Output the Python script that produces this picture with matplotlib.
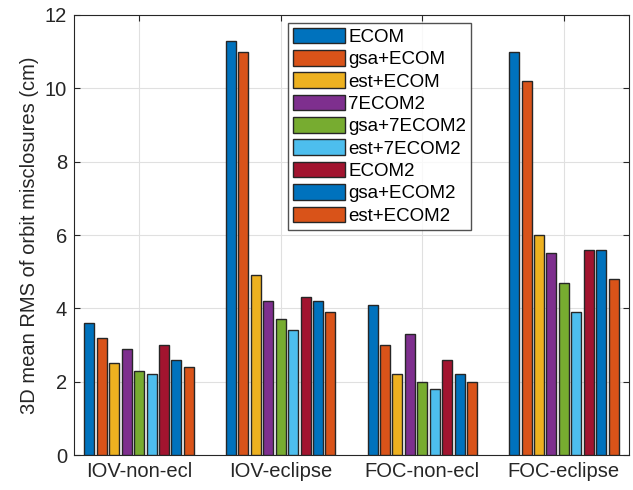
import matplotlib.pyplot as plt
import numpy as np

categories = ['IOV-non-ecl', 'IOV-eclipse', 'FOC-non-ecl', 'FOC-eclipse']
series = ['ECOM', 'gsa+ECOM', 'est+ECOM', '7ECOM2', 'gsa+7ECOM2',
          'est+7ECOM2', 'ECOM2', 'gsa+ECOM2', 'est+ECOM2']
values = [
    [3.6, 11.3, 4.1, 11.0],
    [3.2, 11.0, 3.0, 10.2],
    [2.5, 4.9, 2.2, 6.0],
    [2.9, 4.2, 3.3, 5.5],
    [2.3, 3.7, 2.0, 4.7],
    [2.2, 3.4, 1.8, 3.9],
    [3.0, 4.3, 2.6, 5.6],
    [2.6, 4.2, 2.2, 5.6],
    [2.4, 3.9, 2.0, 4.8],
]
colors = ['#0072BD', '#D95319', '#EDB120', '#7E2F8E', '#77AC30',
          '#4DBEEE', '#A2142F', '#0072BD', '#D95319']

plt.rcParams['font.family'] = ['Liberation Sans', 'DejaVu Sans']

fig = plt.figure(figsize=(6.33, 4.9), dpi=100)
ax = fig.add_axes([74/633, 35/490, 555/633, 440/490])

x = np.arange(1, len(categories) + 1)
slot = 0.79 / len(series)
for i, (name, vals) in enumerate(zip(series, values)):
    off = (i - (len(series) - 1) / 2) * slot
    ax.bar(x + off, vals, width=slot * 0.8, color=colors[i],
           edgecolor='#262626', linewidth=1.0, label=name, zorder=3)

ax.set_xlim(0.54, 4.46)
ax.set_ylim(0, 12)
ax.set_xticks(x)
ax.set_xticklabels(categories)
ax.set_yticks(np.arange(0, 13, 2))
ax.tick_params(direction='in', top=True, right=True, labelsize=14.5,
               colors='#262626', length=4, pad=5)
ax.grid(True, color='#e0e0e0', linewidth=0.8, zorder=0)
ax.set_axisbelow(True)
for s in ax.spines.values():
    s.set_color('#262626')
    s.set_linewidth(0.8)
ax.set_ylabel('3D mean RMS of orbit misclosures (cm)', fontsize=14.5,
              color='#262626', labelpad=4)

ax.legend(loc='upper left', bbox_to_anchor=(0.386, 0.982), fontsize=13.5,
          frameon=True, fancybox=False, edgecolor='#262626',
          handlelength=2.8, handleheight=0.9, handletextpad=0.15,
          labelspacing=0.22, borderpad=0.25, borderaxespad=0)

fig.savefig('out.png', dpi=100)
